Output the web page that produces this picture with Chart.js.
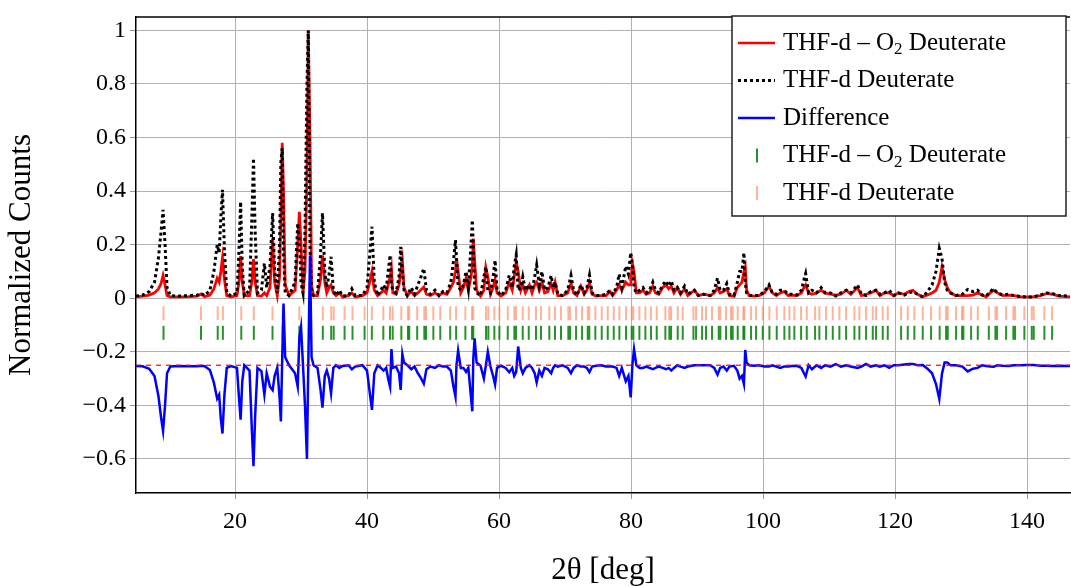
<!DOCTYPE html>
<html>
<head>
<meta charset="utf-8">
<script src="https://cdn.jsdelivr.net/npm/chart.js@4"></script>
<style>
  html, body { margin: 0; padding: 0; background: #fff; }
  #wrap { width: 1071px; height: 586px; }
</style>
</head>
<body>
<div id="wrap"><canvas id="xrd" width="1071" height="586"></canvas></div>
<script>
// 2θ grid (deg) shared by both measured patterns
const twoTheta = [
  5.0, 6.0, 7.0, 7.8, 8.4, 8.8, 9.1, 9.4, 9.7, 10.2,
  11.5, 13.0, 14.3, 14.85, 15.4, 16.2, 16.8, 17.3, 17.6, 17.85,
  18.1, 18.4, 18.75, 19.4, 20.3, 20.6, 20.85, 21.1, 21.4, 22.2,
  22.55, 22.8, 23.05, 23.4, 24.0, 24.45, 24.8, 25.3, 25.7, 26.0,
  26.4, 26.75, 26.95, 27.15, 27.35, 27.6, 28.2, 29.1, 29.5, 29.75,
  30.0, 30.3, 30.6, 30.9, 31.1, 31.36, 31.6, 31.9, 32.5, 32.95,
  33.25, 33.6, 33.9, 34.25, 34.55, 34.9, 35.3, 35.8, 36.3, 37.2,
  37.7, 38.2, 39.3, 40.0, 40.4, 40.75, 41.1, 41.6, 42.1, 42.5,
  42.9, 43.2, 43.5, 43.7, 43.9, 44.4, 44.85, 45.1, 45.35, 45.6,
  46.1, 46.7, 47.2, 47.7, 48.1, 48.6, 49.0, 49.6, 50.3, 50.9,
  51.5, 52.1, 52.7, 53.1, 53.4, 53.55, 53.8, 54.2, 54.6, 55.0,
  55.35, 55.75, 55.95, 56.1, 56.3, 56.6, 57.2, 57.7, 58.0, 58.3,
  58.7, 59.1, 59.4, 59.7, 60.3, 61.0, 61.55, 62.0, 62.3, 62.6,
  62.9, 63.3, 63.6, 64.0, 64.6, 65.0, 65.4, 65.7, 66.1, 66.5,
  66.9, 67.4, 67.9, 68.2, 68.5, 68.9, 69.6, 70.4, 70.9, 71.3,
  71.8, 72.4, 72.9, 73.3, 73.7, 74.1, 74.7, 75.5, 76.2, 76.8,
  77.2, 77.8, 78.2, 78.6, 79.2, 79.6, 79.95, 80.2, 80.45, 80.8,
  81.3, 81.8, 82.3, 82.8, 83.3, 83.7, 84.2, 84.8, 85.3, 85.7,
  86.1, 86.5, 87.0, 87.5, 88.1, 88.6, 89.6, 90.2, 91.0, 92.0,
  92.6, 93.1, 93.5, 94.0, 94.5, 94.9, 95.6, 96.1, 96.45, 96.8,
  97.1, 97.3, 97.5, 97.9, 98.6, 99.4, 100.2, 100.9, 101.4, 102.0,
  102.6, 103.2, 103.8, 104.4, 105.1, 105.8, 106.2, 106.45, 106.9, 107.4,
  108.1, 108.8, 109.4, 110.2, 111.0, 111.8, 112.6, 113.3, 114.3, 114.9,
  115.6, 116.3, 117.1, 117.7, 118.4, 119.1, 119.8, 120.5, 121.4, 122.1,
  122.7, 123.4, 124.2, 124.9, 125.6, 126.2, 126.7, 127.1, 127.5, 127.9,
  128.4, 129.2, 130.2, 131.0, 131.8, 132.5, 133.2, 133.8, 134.4, 134.9,
  135.5, 136.3, 137.2, 138.0, 139.0, 140.0, 141.0, 142.0, 143.0, 143.8,
  144.8, 146.5
];

// THF-d – O2 Deuterate (red)
const thfdO2 = [
  0.005, 0.008, 0.012, 0.02, 0.035, 0.055, 0.085, 0.05, 0.01, 0.005,
  0.005, 0.006, 0.008, 0.016, 0.006, 0.012, 0.035, 0.075, 0.06, 0.1,
  0.15, 0.07, 0.01, 0.005, 0.01, 0.06, 0.157, 0.06, 0.01, 0.01,
  0.06, 0.146, 0.06, 0.01, 0.008, 0.02, 0.01, 0.04, 0.225, 0.06,
  0.01, 0.08, 0.3, 0.58, 0.4, 0.05, 0.01, 0.03, 0.2, 0.323,
  0.2, 0.02, 0.1, 0.45, 1.0, 0.6, 0.05, 0.01, 0.01, 0.07,
  0.16, 0.06, 0.02, 0.04, 0.05, 0.02, 0.01, 0.02, 0.005, 0.01,
  0.02, 0.005, 0.01, 0.02, 0.06, 0.1, 0.03, 0.01, 0.02, 0.03,
  0.02, 0.05, 0.08, 0.11, 0.02, 0.015, 0.05, 0.1, 0.142, 0.04,
  0.01, 0.025, 0.01, 0.02, 0.03, 0.042, 0.015, 0.01, 0.02, 0.01,
  0.02, 0.015, 0.04, 0.06, 0.1, 0.15, 0.1, 0.02, 0.04, 0.075,
  0.03, 0.08, 0.12, 0.223, 0.14, 0.03, 0.008, 0.03, 0.115, 0.08,
  0.015, 0.04, 0.07, 0.02, 0.008, 0.02, 0.06, 0.03, 0.08, 0.136,
  0.1, 0.03, 0.05, 0.02, 0.05, 0.02, 0.05, 0.06, 0.03, 0.06,
  0.02, 0.025, 0.055, 0.03, 0.06, 0.01, 0.01, 0.02, 0.055, 0.02,
  0.01, 0.045, 0.015, 0.03, 0.06, 0.015, 0.008, 0.01, 0.01, 0.025,
  0.01, 0.03, 0.05, 0.03, 0.06, 0.05, 0.05, 0.13, 0.1, 0.02,
  0.02, 0.03, 0.015, 0.02, 0.045, 0.02, 0.015, 0.04, 0.05, 0.035,
  0.045, 0.02, 0.04, 0.015, 0.035, 0.01, 0.03, 0.01, 0.015, 0.01,
  0.02, 0.04, 0.02, 0.025, 0.035, 0.01, 0.008, 0.04, 0.05, 0.06,
  0.1, 0.117, 0.03, 0.01, 0.008, 0.01, 0.02, 0.045, 0.02, 0.01,
  0.02, 0.025, 0.01, 0.012, 0.01, 0.02, 0.04, 0.05, 0.02, 0.015,
  0.02, 0.03, 0.02, 0.015, 0.012, 0.015, 0.03, 0.015, 0.04, 0.01,
  0.015, 0.02, 0.03, 0.01, 0.02, 0.02, 0.01, 0.02, 0.015, 0.025,
  0.03, 0.015, 0.006, 0.012, 0.02, 0.03, 0.06, 0.117, 0.07, 0.04,
  0.02, 0.01, 0.01, 0.01, 0.012, 0.02, 0.012, 0.005, 0.02, 0.03,
  0.02, 0.01, 0.012, 0.01, 0.006, 0.005, 0.006, 0.01, 0.018, 0.015,
  0.008, 0.005
];

// THF-d Deuterate (black dotted)
const thfd = [
  0.008, 0.012, 0.025, 0.06, 0.15, 0.25, 0.33, 0.2, 0.04, 0.01,
  0.008, 0.01, 0.012, 0.018, 0.01, 0.03, 0.1, 0.2, 0.17, 0.3,
  0.405, 0.18, 0.02, 0.008, 0.02, 0.18, 0.36, 0.12, 0.01, 0.03,
  0.3, 0.523, 0.25, 0.02, 0.03, 0.13, 0.04, 0.12, 0.318, 0.1,
  0.02, 0.2, 0.51, 0.56, 0.17, 0.02, 0.01, 0.06, 0.28, 0.22,
  0.057, 0.02, 0.25, 0.8, 1.0, 0.19, 0.02, 0.01, 0.02, 0.16,
  0.318, 0.1, 0.04, 0.09, 0.155, 0.03, 0.01, 0.03, 0.008, 0.01,
  0.035, 0.01, 0.01, 0.04, 0.16, 0.267, 0.06, 0.01, 0.03, 0.05,
  0.03, 0.1, 0.161, 0.05, 0.03, 0.02, 0.08, 0.192, 0.1, 0.03,
  0.01, 0.04, 0.015, 0.05, 0.075, 0.111, 0.03, 0.015, 0.03, 0.01,
  0.025, 0.02, 0.06, 0.14, 0.217, 0.15, 0.045, 0.03, 0.05, 0.1,
  0.04, 0.2, 0.292, 0.2, 0.04, 0.02, 0.01, 0.08, 0.117, 0.03,
  0.02, 0.08, 0.142, 0.03, 0.01, 0.03, 0.086, 0.04, 0.12, 0.161,
  0.03, 0.04, 0.08, 0.03, 0.05, 0.03, 0.08, 0.124, 0.05, 0.1,
  0.03, 0.04, 0.085, 0.04, 0.06, 0.015, 0.01, 0.03, 0.085, 0.03,
  0.01, 0.05, 0.02, 0.04, 0.086, 0.02, 0.01, 0.01, 0.015, 0.03,
  0.015, 0.04, 0.09, 0.04, 0.12, 0.09, 0.17, 0.13, 0.04, 0.02,
  0.03, 0.04, 0.02, 0.03, 0.06, 0.03, 0.02, 0.05, 0.065, 0.045,
  0.065, 0.03, 0.04, 0.02, 0.045, 0.015, 0.03, 0.01, 0.015, 0.01,
  0.03, 0.075, 0.03, 0.03, 0.055, 0.015, 0.01, 0.06, 0.1, 0.1,
  0.17, 0.06, 0.02, 0.01, 0.01, 0.01, 0.025, 0.05, 0.02, 0.015,
  0.03, 0.03, 0.015, 0.015, 0.012, 0.03, 0.07, 0.092, 0.02, 0.03,
  0.02, 0.04, 0.02, 0.02, 0.008, 0.02, 0.03, 0.02, 0.05, 0.015,
  0.01, 0.025, 0.03, 0.015, 0.02, 0.03, 0.01, 0.02, 0.012, 0.02,
  0.025, 0.015, 0.005, 0.025, 0.05, 0.1, 0.186, 0.15, 0.06, 0.03,
  0.02, 0.01, 0.015, 0.033, 0.025, 0.03, 0.012, 0.008, 0.025, 0.036,
  0.02, 0.012, 0.015, 0.01, 0.006, 0.004, 0.005, 0.012, 0.02, 0.018,
  0.01, 0.008
];

// offset of the difference curve
const diffOffset = -0.25;

// reflection positions (deg)
const thfdO2Ticks = [
  9.17, 14.85, 17.38, 18.16, 20.95, 22.85, 25.68, 27.23, 29.74, 31.23,
  33.3, 34.57, 34.95, 36.6, 37.8, 39.63, 40.73, 42.47, 43.48, 43.89,
  45.2, 46.2, 46.4, 47.6, 48.68, 48.94, 50.05, 51.1, 52.6, 53.5,
  54.9, 55.9, 56.1, 58.03, 58.38, 59.29, 60.05, 61.32, 62.32, 62.58,
  63.59, 64.5, 65.6, 66.36, 67.62, 68.48, 69.39, 70.5, 70.76, 71.67,
  72.58, 73.44, 73.68, 74.59, 75.56, 76.47, 77.38, 78.23, 79.24, 80.1,
  80.35, 81.26, 82.17, 83.03, 83.89, 85.2, 85.8, 86.06, 87.07, 87.83,
  89.45, 89.85, 90.76, 91.36, 92.27, 93.28, 93.53, 94.39, 95.15, 95.4,
  96.16, 97.02, 97.17, 98.18, 98.94, 99.95, 100.96, 102.07, 103.23, 103.99,
  104.74, 105.76, 106.62, 107.88, 108.53, 109.55, 110.56, 111.56, 112.58, 113.84,
  114.59, 115.61, 116.62, 117.12, 118.13, 118.89, 120.91, 121.92, 122.92, 124.19,
  125.45, 126.75, 127.73, 127.98, 129.24, 130.15, 130.35, 131.52, 132.53, 134.2,
  135.2, 135.45, 136.82, 137.92, 138.18, 139.59, 140.71, 141.01, 142.62, 143.79
];
const thfdTicks = [
  9.17, 14.85, 17.38, 18.16, 20.95, 22.85, 25.68, 27.23, 29.74, 31.23,
  33.3, 34.57, 34.95, 36.6, 37.8, 39.63, 40.73, 42.47, 43.48, 43.89,
  45.2, 46.2, 46.4, 47.6, 48.68, 48.94, 50.05, 51.1, 52.6, 53.5,
  54.9, 55.9, 56.1, 58.03, 58.38, 59.29, 60.05, 61.32, 62.32, 62.58,
  63.59, 64.5, 65.6, 66.36, 67.62, 68.48, 69.39, 70.5, 70.76, 71.67,
  72.58, 73.44, 73.68, 74.59, 75.56, 76.47, 77.38, 78.23, 79.24, 80.1,
  80.35, 81.26, 82.17, 83.03, 83.89, 85.2, 85.8, 86.06, 87.07, 87.83,
  89.45, 89.85, 90.76, 91.36, 92.27, 93.28, 93.53, 94.39, 95.15, 95.4,
  96.16, 97.02, 97.17, 98.18, 98.94, 99.95, 100.96, 102.07, 103.23, 103.99,
  104.74, 105.76, 106.62, 107.88, 108.53, 109.55, 110.56, 111.56, 112.58, 113.84,
  114.59, 115.61, 116.62, 117.12, 118.13, 118.89, 120.91, 121.92, 122.92, 124.19,
  125.45, 126.75, 127.73, 127.98, 129.24, 130.15, 130.35, 131.52, 132.53, 134.2,
  135.2, 135.45, 136.82, 137.92, 138.18, 139.59, 140.71, 141.01, 142.62, 143.79
];
const thfdTickLevel = -0.056;
const thfdO2TickLevel = -0.129;

const xTickValues = [20, 40, 60, 80, 100, 120, 140];
const yTickValues = [-0.6, -0.4, -0.2, 0, 0.2, 0.4, 0.6, 0.8, 1];

const FONT = '"Liberation Serif", "Times New Roman", serif';
const GREEN = 'rgba(0,128,0,0.85)';
const SALMON = 'rgba(250,140,100,0.65)';

const redPts = twoTheta.map((t, i) => ({ x: t, y: thfdO2[i] }));
const blackPts = twoTheta.map((t, i) => ({ x: t, y: thfd[i] }));
// difference pattern, shifted down
const diffPts = twoTheta.map((t, i) => ({ x: t, y: thfdO2[i] - thfd[i] + diffOffset }));
const zeroPts = [{ x: 5, y: diffOffset }, { x: 146.5, y: diffOffset }];

const legendRows = [
  { text: ['THF-d – O', '2', ' Deuterate'], kind: 'line', color: '#ff0000', dash: [] },
  { text: ['THF-d Deuterate'], kind: 'line', color: '#000000', dash: [3, 3] },
  { text: ['Difference'], kind: 'line', color: '#0000ff', dash: [] },
  { text: ['THF-d – O', '2', ' Deuterate'], kind: 'tick', color: GREEN },
  { text: ['THF-d Deuterate'], kind: 'tick', color: SALMON }
];

const frameAndLegend = {
  id: 'frameAndLegend',
  afterDraw(chart) {
    const ctx = chart.ctx;
    const a = chart.chartArea;
    ctx.save();
    // top frame line
    ctx.strokeStyle = '#000';
    ctx.lineWidth = 1.5;
    ctx.beginPath();
    ctx.moveTo(a.left, a.top);
    ctx.lineTo(a.right, a.top);
    ctx.stroke();

    // legend box
    const bx = 732, by = 16, bw = 334, bh = 200;
    ctx.fillStyle = '#fff';
    ctx.fillRect(bx, by, bw, bh);
    ctx.strokeStyle = '#222';
    ctx.lineWidth = 1.5;
    ctx.strokeRect(bx, by, bw, bh);

    ctx.textBaseline = 'middle';
    ctx.textAlign = 'left';
    legendRows.forEach((row, i) => {
      const cy = by + 27 + i * 37.5;
      ctx.strokeStyle = row.color;
      if (row.kind === 'line') {
        ctx.lineWidth = row.dash.length ? 3 : 2.5;
        ctx.setLineDash(row.dash);
        ctx.beginPath();
        ctx.moveTo(738, cy);
        ctx.lineTo(775, cy);
        ctx.stroke();
        ctx.setLineDash([]);
      } else {
        ctx.lineWidth = 2;
        ctx.beginPath();
        ctx.moveTo(757, cy - 7);
        ctx.lineTo(757, cy + 7);
        ctx.stroke();
      }
      ctx.fillStyle = '#000';
      let x = 783;
      row.text.forEach((part, j) => {
        const sub = row.text.length === 3 && j === 1;
        ctx.font = (sub ? '17px ' : '25px ') + FONT;
        ctx.fillText(part, x, cy + (sub ? 7 : 0));
        x += ctx.measureText(part).width;
      });
    });
    ctx.restore();
  }
};

const tickStyle = (color) => ({
  type: 'scatter',
  showLine: false,
  pointStyle: 'line',
  rotation: 90,
  pointRadius: 7,
  pointHoverRadius: 7,
  borderColor: color,
  backgroundColor: color,
  borderWidth: 2
});

new Chart(document.getElementById('xrd'), {
  type: 'line',
  data: {
    datasets: [
      { label: 'zero', data: zeroPts, borderColor: '#ff0000', borderWidth: 1.2, borderDash: [5, 5],
        pointRadius: 0, order: 0 },
      { label: 'Difference', data: diffPts, borderColor: '#0000ff', borderWidth: 2.5,
        pointRadius: 0, order: 1 },
      { label: 'THF-d Deuterate', data: blackPts, borderColor: '#000000', borderWidth: 3,
        borderDash: [3, 3], pointRadius: 0, order: 2 },
      { label: 'THF-d – O2 Deuterate', data: redPts, borderColor: '#ff0000', borderWidth: 2.8,
        pointRadius: 0, order: 3 },
      Object.assign({ label: 'THF-d – O2 Deuterate ticks',
        data: thfdO2Ticks.map(t => ({ x: t, y: thfdO2TickLevel })), order: 4 }, tickStyle(GREEN)),
      Object.assign({ label: 'THF-d Deuterate ticks',
        data: thfdTicks.map(t => ({ x: t, y: thfdTickLevel })), order: 5 }, tickStyle(SALMON))
    ]
  },
  options: {
    responsive: false,
    devicePixelRatio: 1,
    animation: false,
    layout: { autoPadding: false, padding: { top: 17, right: 1, left: 0, bottom: 0 } },
    elements: { line: { tension: 0 } },
    scales: {
      x: {
        type: 'linear',
        min: 5,
        max: 146.5,
        afterFit: (s) => { s.height = 93; s.paddingLeft = 0; s.paddingRight = 0; },
        afterBuildTicks: (s) => { s.ticks = xTickValues.map(v => ({ value: v })); },
        grid: { color: '#b0b0b0', lineWidth: 1, tickLength: 6, tickColor: '#999' },
        border: { color: '#000', width: 1.5 },
        ticks: { color: '#000', font: { family: FONT, size: 24 }, padding: 8,
          callback: (v) => String(v) },
        title: { display: true, text: '2θ [deg]', color: '#000',
          font: { family: FONT, size: 31, lineHeight: 1 }, padding: { top: 0, bottom: 0 } }
      },
      y: {
        type: 'linear',
        min: -0.727,
        max: 1.05,
        afterFit: (s) => { s.width = 136; s.paddingTop = 0; s.paddingBottom = 0; },
        afterBuildTicks: (s) => { s.ticks = yTickValues.map(v => ({ value: v })); },
        grid: { color: '#b0b0b0', lineWidth: 1, tickLength: 6, tickColor: '#999' },
        border: { color: '#000', width: 1.5 },
        ticks: { color: '#000', font: { family: FONT, size: 24 }, padding: 4,
          callback: (v) => String(Math.round(v * 10) / 10).replace('-', '−') },
        title: { display: true, text: 'Normalized Counts', color: '#000',
          font: { family: FONT, size: 31, lineHeight: 1 }, padding: { top: 6, bottom: 0 } }
      }
    },
    plugins: {
      legend: { display: false },
      tooltip: { enabled: false }
    }
  },
  plugins: [frameAndLegend]
});
</script>
</body>
</html>
